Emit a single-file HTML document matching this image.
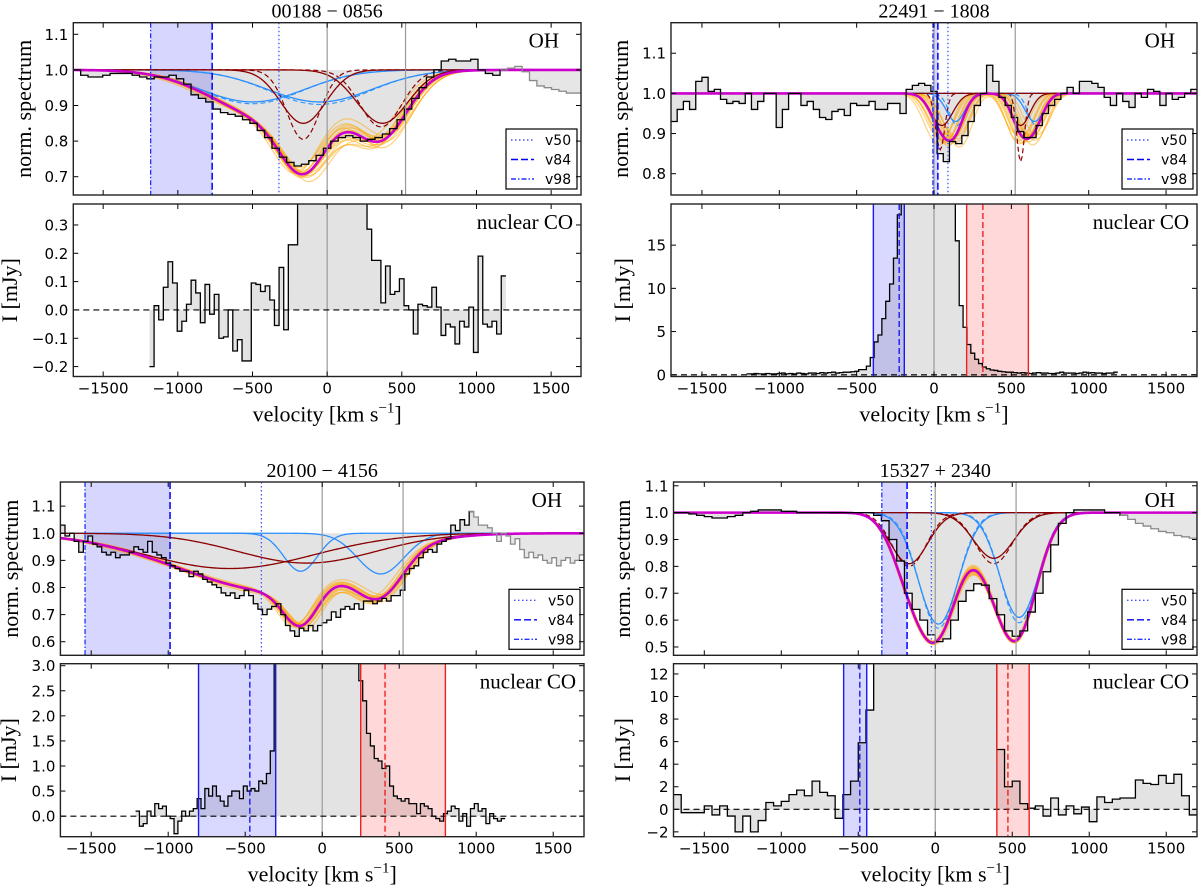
<!DOCTYPE html>
<html><head><meta charset="utf-8"><title>OH and nuclear CO spectra</title>
<style>
html,body{margin:0;padding:0;background:#fff;}
svg{display:block;}
.tick{font-family:"DejaVu Sans","Liberation Sans",sans-serif;font-size:15px;fill:#000;}
.serif{font-family:"Liberation Serif","DejaVu Serif",serif;fill:#000;}
.leg{font-family:"DejaVu Sans","Liberation Sans",sans-serif;font-size:14px;fill:#000;}
</style></head>
<body>
<svg id="chart" xmlns="http://www.w3.org/2000/svg" width="1200" height="888" viewBox="0 0 1200 888">
<rect x="0" y="0" width="1200" height="888" fill="#fff"/>
<defs id="defs"></defs>
</svg>
<script>
// ---------- DATA ----------
const xTicks = [-1500,-1000,-500,0,500,1000,1500];
const legendLabels = ['v50','v84','v98'];
const sampleScale = [0.9,0.93,0.95,0.97,0.98,1.0,1.02,1.03,1.05,1.07,1.1,0.96,1.04,0.92,1.08];
const sampleShift = [-30,20,-10,40,-40,10,-20,30,0,-50,50,15,-25,35,-5];

// 00188-0856
const tlOhVals = [1.0,0.985,0.98,0.98,0.985,0.99,0.99,0.99,0.985,0.98,0.975,0.98,0.98,0.985,0.975,0.96,0.93,0.92,0.91,0.89,0.88,0.875,0.87,0.86,0.85,0.83,0.81,0.78,0.755,0.74,0.73,0.735,0.745,0.76,0.78,0.8,0.81,0.815,0.81,0.8,0.805,0.81,0.82,0.835,0.86,0.89,0.92,0.95,0.98,1.0,1.025,1.03,1.025,1.025,1.03,1.0,0.99,0.985,1.0,1.005,1.01,0.995,0.97,0.955,0.95,0.945,0.94,0.935,0.935];
const tlCoVals = [-0.2,0.015,-0.035,0.08,0.17,0.095,-0.075,-0.04,0.02,0.105,0.06,-0.045,0.09,-0.015,0.055,-0.1,-0.095,0.0,-0.145,-0.105,-0.18,-0.18,0.095,0.09,0.065,0.085,0.035,-0.055,0.15,-0.07,0.23,0.23,0.6,1.0,1.4,1.8,2.0,2.1,2.0,1.8,1.5,1.2,0.9,0.7,0.55,0.45,0.4,0.285,0.175,0.175,0.025,0.155,0.055,0.065,0.11,0.015,0.0,-0.085,0.02,0.015,0.01,0.08,0.01,-0.09,-0.05,-0.06,-0.12,-0.04,-0.06,0.01,-0.15,0.19,-0.05,-0.06,-0.04,-0.085,0.12];
const tlBrown = [{c:-160,d:0.15,s:150},{c:370,d:0.15,s:170}];
const tlBrownDash = [{c:-160,d:0.195,s:110},{c:360,d:0.16,s:140}];
const tlBlue = [{c:-500,d:0.09,s:350},{c:-50,d:0.09,s:350}];
const tlBlueDash = [{c:-500,d:0.095,s:340},{c:-50,d:0.097,s:340}];
const tlVel = {v98:-1182,v84:-770,v50:-323};

// 22491-1808
const trOhVals = [0.93,0.96,0.98,0.96,1.03,1.04,1.005,1.01,0.985,0.975,0.98,0.975,1.0,0.96,0.98,1.0,1.0,0.915,0.96,1.0,1.0,0.97,0.98,0.96,0.94,0.935,0.955,0.96,0.945,0.975,0.97,0.97,0.98,0.96,0.96,0.975,0.975,0.95,1.01,1.02,1.025,1.02,1.005,0.85,0.83,0.88,0.875,0.895,0.93,0.97,1.0,1.07,1.03,0.99,0.97,0.94,0.905,0.89,0.89,0.92,0.95,0.97,0.985,1.0,1.015,1.0,1.03,1.03,1.025,1.015,0.99,0.97,1.0,0.98,0.965,1.0,0.99,1.01,1.005,0.97,1.0,0.985,0.99,1.0,1.01];
const trCoVals = [0.1,0.1,0.15,0.1,0.1,0.15,0.1,0.1,0.15,0.2,0.1,0.15,0.1,0.2,0.15,0.1,0.2,0.2,0.15,0.25,0.2,0.25,0.3,0.2,0.25,0.3,0.3,0.35,0.4,0.6,0.6,1.0,2.0,3.8,4.6,6.5,8.5,10.5,13.5,18.5,25,30,40,50,60,65,70,68,65,60,55,45,35,25,15.5,8.0,5.5,3.5,2.5,1.8,1.3,0.9,0.7,0.55,0.5,0.4,0.35,0.3,0.3,0.25,0.2,0.25,0.2,0.15,0.2,0.25,0.2,0.2,0.15,0.15,0.2,0.3,0.2,0.2,0.2,0.15,0.2,0.3,0.2,0.25,0.2,0.2,0.15,0.2,0.2,0.3];
const trBrown = [{c:50,d:0.08,s:70},{c:560,d:0.08,s:60}];
const trBrownDash = [{c:40,d:0.14,s:30},{c:560,d:0.17,s:25}];
const trBlue = [{c:140,d:0.07,s:60},{c:650,d:0.07,s:60}];
const trBlueDash = [{c:150,d:0.08,s:50},{c:660,d:0.08,s:50}];
const trVel = {v98:-7,v84:25,v50:90};
const trCoBlue = [-392,-192,-225];
const trCoRed = [211,610,316];

// 20100-4156
const blOhVals = [1.03,0.99,1.0,0.97,0.93,0.97,0.99,0.96,0.95,0.93,0.92,0.93,0.91,0.92,0.92,0.93,0.95,0.94,0.93,0.97,0.93,0.92,0.91,0.89,0.88,0.87,0.86,0.86,0.84,0.86,0.85,0.83,0.82,0.81,0.8,0.78,0.77,0.78,0.76,0.77,0.79,0.77,0.74,0.72,0.7,0.72,0.73,0.74,0.7,0.66,0.64,0.62,0.65,0.64,0.66,0.64,0.66,0.67,0.68,0.71,0.69,0.72,0.73,0.72,0.74,0.72,0.75,0.75,0.74,0.75,0.76,0.75,0.77,0.77,0.79,0.85,0.87,0.88,0.91,0.93,0.94,0.93,0.96,0.97,0.98,1.03,1.01,1.05,1.03,1.08,1.06,1.03,1.03,1.02,1.0,0.97,1.0,0.99,0.96,0.98,0.94,0.91,0.93,0.91,0.92,0.9,0.89,0.91,0.88,0.9,0.91,0.89,0.9,0.92];
const blCoVals = [0.1,-0.2,-0.15,0.1,0.0,0.25,0.15,0.2,0.0,-0.05,-0.35,-0.1,0.1,0.0,0.1,0.15,0.35,0.15,0.55,0.4,0.6,0.4,0.3,0.2,0.4,0.5,0.5,0.35,0.6,0.5,0.55,0.5,0.7,0.65,0.85,1.3,3.5,5,7,9,11,12,13,14,14,13,12,11,10,9,8,7,6,5,4.5,4,3.5,3.2,2.7,2.3,1.65,1.4,1.15,1.1,0.95,1.0,0.6,0.4,0.35,0.3,0.35,0.25,0.25,0.05,0.25,0.2,0.15,0.0,-0.05,-0.1,0.05,0.1,0.2,0.15,-0.1,0.05,-0.2,0.15,0.25,0.1,0.15,-0.15,0.05,-0.05,-0.1,-0.05];
const blBrown = [{c:-600,d:0.13,s:550},{c:-100,d:0.11,s:450}];
const blBlue = [{c:-140,d:0.14,s:110},{c:380,d:0.15,s:150}];
const blVel = {v98:-1540,v84:-988,v50:-395};
const blCoBlue = [-803,-302,-470];
const blCoRed = [250,800,408];

// 15327+2340
const brOhVals = [1.0,1.0,0.995,0.99,0.985,0.98,0.98,0.985,0.99,1.0,1.005,1.01,1.01,1.01,1.005,1.005,1.0,1.0,1.0,1.0,1.0,1.0,1.0,1.0,1.0,1.0,0.99,0.97,0.9,0.82,0.7,0.64,0.6,0.545,0.52,0.53,0.6,0.67,0.71,0.735,0.73,0.68,0.62,0.56,0.54,0.56,0.63,0.7,0.78,0.88,0.96,1.0,1.01,1.01,1.01,1.01,1.0,1.0,0.99,0.975,0.96,0.95,0.94,0.93,0.925,0.915,0.91,0.905];
const brCoVals = [1.3,-0.3,-0.3,-0.3,0.3,-0.5,0.3,-0.6,-2.0,-0.6,-2.0,-1.0,0.6,0.3,0.7,1.3,1.7,1.2,2.5,1.5,1.2,-0.8,1.3,2.5,5.9,8.8,15,15,15,15,15,15,15,15,15,15,15,15,15,15,15,15,5.3,2.0,2.5,0.5,0.1,0.3,-0.6,1.0,-0.5,0.3,-0.4,0.2,-1.1,1.1,0.6,0.9,1.0,1.0,2.6,2.3,2.2,3.0,2.3,3.1,1.2,-0.5];
const brBrown = [{c:-170,d:0.19,s:120},{c:380,d:0.17,s:130}];
const brBrownDash = [{c:-170,d:0.2,s:110},{c:380,d:0.19,s:120}];
const brBlue = [{c:20,d:0.415,s:130},{c:545,d:0.39,s:125}];
const brBlueDash = [{c:20,d:0.43,s:125},{c:545,d:0.41,s:120}];
const brVel = {v98:-347,v84:-183,v50:-25};
const brCoBlue = [-595,-445,-490];
const brCoRed = [400,610,472];

// ---------- DRAWING ----------
const NS = 'http://www.w3.org/2000/svg';
const svg = document.getElementById('chart');
const defs = document.getElementById('defs');
function el(tag, attrs, name, parent){
  const e = document.createElementNS(NS, tag);
  for (const k in attrs) e.setAttribute(k, attrs[k]);
  
  
  (parent || svg).appendChild(e);
  return e;
}
function gauss(v, comp){ return comp.d*Math.exp(-0.5*Math.pow((v-comp.c)/comp.s,2)); }
function fmt(v, dec){ const s = v.toFixed(dec); return v < 0 ? '\u2212' + s.slice(1) : s; }

function stepPath(vals, start, step, i0, i1, xs, ys){
  let d = '';
  for (let i=i0;i<i1;i++){
    const l = xs(start+i*step), r = xs(start+(i+1)*step), y = ys(vals[i]);
    d += (i===i0 ? 'M' : 'L') + l.toFixed(2) + ',' + y.toFixed(2) + ' L' + r.toFixed(2) + ',' + y.toFixed(2) + ' ';
  }
  return d;
}
function fillPath(vals, start, step, i0, i1, xs, ys, base){
  const d = stepPath(vals, start, step, i0, i1, xs, ys);
  return 'M' + xs(start+i0*step).toFixed(2) + ',' + ys(base).toFixed(2) + ' L' + d.slice(1) + 'L' + xs(start+i1*step).toFixed(2) + ',' + ys(base).toFixed(2) + ' Z';
}
function curvePath(fn, xs, ys){
  let d = '';
  for (let v=-1700; v<=1700; v+=10){ d += (v===-1700?'M':'L') + xs(v).toFixed(2) + ',' + ys(fn(v)).toFixed(2) + ' '; }
  return d;
}

function drawAxesFrame(g, P, ax, ys, ticks, dec, showXLabels, prefix){
  const x0=P.x0, x1=P.x1;
  for (const t of xTicks){
    const x = P.xs(t);
    el('line',{x1:x,y1:ax.b,x2:x,y2:ax.b-5,stroke:'#000','stroke-width':1},prefix+'-x-tick',g);
    el('line',{x1:x,y1:ax.t,x2:x,y2:ax.t+5,stroke:'#000','stroke-width':1},prefix+'-x-tick-top',g);
    if (showXLabels){
      const tx = el('text',{x:x,y:ax.b+17,'text-anchor':'middle',class:'tick'},prefix+'-x-tick-label',g);
      tx.textContent = fmt(t,0);
    }
  }
  for (const t of ticks){
    const y = ys(t);
    el('line',{x1:x0,y1:y,x2:x0+5,y2:y,stroke:'#000','stroke-width':1},prefix+'-y-tick',g);
    el('line',{x1:x1,y1:y,x2:x1-5,y2:y,stroke:'#000','stroke-width':1},prefix+'-y-tick-right',g);
    const tx = el('text',{x:x0-5,y:y+5.5,'text-anchor':'end',class:'tick'},prefix+'-y-tick-label',g);
    tx.textContent = fmt(t,dec);
  }
  el('rect',{x:x0,y:ax.t,width:x1-x0,height:ax.b-ax.t,fill:'none',stroke:'#222','stroke-width':1.4},prefix+'-frame',g);
}

function drawPanel(P){
  P.xs = v => P.x0 + (v+1700)/3400*(P.x1-P.x0);
  const xs = P.xs, oh = P.oh, co = P.co;
  const yo = v => oh.t + (oh.max-v)/(oh.max-oh.min)*(oh.b-oh.t);
  const yc = v => co.t + (co.max-v)/(co.max-co.min)*(co.b-co.t);
  const g = el('g',{},P.id+'-panel');

  const cpO = el('clipPath',{id:P.id+'-clip-oh'},P.id+'-clip-oh',defs);
  el('rect',{x:P.x0,y:oh.t,width:P.x1-P.x0,height:oh.b-oh.t},'clip-rect',cpO);
  const cpC = el('clipPath',{id:P.id+'-clip-co'},P.id+'-clip-co',defs);
  el('rect',{x:P.x0,y:co.t,width:P.x1-P.x0,height:co.b-co.t},'clip-rect',cpC);

  // ---- OH axes ----
  const go = el('g',{'clip-path':'url(#'+P.id+'-clip-oh)'},P.id+'-oh-plot',g);
  const ohStart = -1700, ohStep = 3400/P.ohVals.length;
  let grayIdx = P.ohVals.length;
  for (let i=0;i<P.ohVals.length;i++){ if (ohStart+i*ohStep >= P.grayFrom){ grayIdx = i; break; } }
  el('path',{d:fillPath(P.ohVals,ohStart,ohStep,0,grayIdx,xs,yo,1.0),fill:'#e3e3e3',stroke:'none'},P.id+'-oh-data-fill',go);
  if (grayIdx < P.ohVals.length)
    el('path',{d:fillPath(P.ohVals,ohStart,ohStep,grayIdx,P.ohVals.length,xs,yo,1.0),fill:'#e6e6e6',stroke:'none'},P.id+'-oh-data-fill-unused',go);
  el('rect',{x:xs(P.vel.v98),y:oh.t,width:xs(P.vel.v84)-xs(P.vel.v98),height:oh.b-oh.t,fill:'#0000ff','fill-opacity':0.16},P.id+'-outflow-span',go);
  const comps = P.brown.concat(P.blue);
  for (let k=0;k<sampleScale.length;k++){
    const sc = 1 + (sampleScale[k]-1)*P.spread, sh = sampleShift[k]*P.spread;
    const f = v => 1 - comps.reduce((a,c,j)=>a+gauss(v,{c:c.c+sh*(j%2?-1:1),d:c.d*(j%2?2-sc:sc),s:c.s}),0);
    el('path',{d:curvePath(f,xs,yo),fill:'none',stroke:'#ffa500','stroke-opacity':0.5,'stroke-width':1.2},P.id+'-mcmc-sample',go);
  }
  for (const c of P.blueDash) el('path',{d:curvePath(v=>1-gauss(v,c),xs,yo),fill:'none',stroke:'#3399ff','stroke-width':1.2,'stroke-dasharray':'5,3'},P.id+'-blue-component-alt',go);
  for (const c of P.brownDash) el('path',{d:curvePath(v=>1-gauss(v,c),xs,yo),fill:'none',stroke:'#8b0000','stroke-width':1.2,'stroke-dasharray':'5,3'},P.id+'-brown-component-alt',go);
  for (const c of P.blue) el('path',{d:curvePath(v=>1-gauss(v,c),xs,yo),fill:'none',stroke:'#2b8fff','stroke-width':1.3},P.id+'-blue-component',go);
  for (const c of P.brown) el('path',{d:curvePath(v=>1-gauss(v,c),xs,yo),fill:'none',stroke:'#8b0000','stroke-width':1.3},P.id+'-brown-component',go);
  el('path',{d:curvePath(v=>1-comps.reduce((a,c)=>a+gauss(v,c),0),xs,yo),fill:'none',stroke:'#cc00cc','stroke-width':2.6},P.id+'-total-fit',go);
  el('path',{d:stepPath(P.ohVals,ohStart,ohStep,0,grayIdx,xs,yo),fill:'none',stroke:'#000','stroke-width':1.3},P.id+'-oh-data',go);
  if (grayIdx < P.ohVals.length)
    el('path',{d:stepPath(P.ohVals,ohStart,ohStep,grayIdx-1,P.ohVals.length,xs,yo),fill:'none',stroke:'#8a8a8a','stroke-width':1.3},P.id+'-oh-data-unused',go);
  for (const v of [0,525]) el('line',{x1:xs(v),y1:oh.t,x2:xs(v),y2:oh.b,stroke:'#999','stroke-width':1.2},P.id+'-oh-ref-line',go);
  el('line',{x1:xs(P.vel.v50),y1:oh.t,x2:xs(P.vel.v50),y2:oh.b,stroke:'#4455ff','stroke-width':1.3,'stroke-dasharray':'1.5,2.5'},P.id+'-v50-line',go);
  el('line',{x1:xs(P.vel.v84),y1:oh.t,x2:xs(P.vel.v84),y2:oh.b,stroke:'#0000ff','stroke-width':1.5,'stroke-dasharray':'7,3'},P.id+'-v84-line',go);
  el('line',{x1:xs(P.vel.v98),y1:oh.t,x2:xs(P.vel.v98),y2:oh.b,stroke:'#2233ff','stroke-width':1.3,'stroke-dasharray':'5,2,1.5,2'},P.id+'-v98-line',go);

  // legend
  const lg = el('g',{},P.id+'-legend',g);
  el('rect',{x:P.x1-75,y:oh.b-66,width:71,height:60,fill:'#fff',stroke:'#000','stroke-width':1.2},P.id+'-legend-box',lg);
  const dashes = ['1.5,2.5','7,3','5,2,1.5,2'];
  const lcols = ['#4455ff','#0000ff','#2233ff'];
  for (let i=0;i<3;i++){
    const y = oh.b-55+i*19.5;
    el('line',{x1:P.x1-70,y1:y,x2:P.x1-47,y2:y,stroke:lcols[i],'stroke-width':1.4,'stroke-dasharray':dashes[i]},P.id+'-legend-swatch',lg);
    const t = el('text',{x:P.x1-36,y:y+5,class:'leg'},P.id+'-legend-label',lg);
    t.textContent = legendLabels[i];
  }
  const ohl = el('text',{x:P.x1-22,y:oh.t+25,'text-anchor':'end',class:'serif','font-size':21},P.id+'-oh-label',g);
  ohl.textContent = 'OH';
  drawAxesFrame(g,P,oh,yo,P.oh.ticks,P.oh.dec,false,P.id+'-oh');

  // ---- CO axes ----
  const gc = el('g',{'clip-path':'url(#'+P.id+'-clip-co)'},P.id+'-co-plot',g);
  const coStep = (P.coEnd-P.coStart)/P.coVals.length;
  el('path',{d:fillPath(P.coVals,P.coStart,coStep,0,P.coVals.length,xs,yc,0),fill:'#e3e3e3',stroke:'none'},P.id+'-co-data-fill',gc);
  if (P.coBlue){
    el('rect',{x:xs(P.coBlue[0]),y:co.t,width:xs(P.coBlue[1])-xs(P.coBlue[0]),height:co.b-co.t,fill:'#0000ff','fill-opacity':0.15},P.id+'-co-blue-wing',gc);
    el('rect',{x:xs(P.coRed[0]),y:co.t,width:xs(P.coRed[1])-xs(P.coRed[0]),height:co.b-co.t,fill:'#ff0000','fill-opacity':0.15},P.id+'-co-red-wing',gc);
  }
  el('line',{x1:xs(0),y1:co.t,x2:xs(0),y2:co.b,stroke:'#999','stroke-width':1.2},P.id+'-co-ref-line',gc);
  el('path',{d:stepPath(P.coVals,P.coStart,coStep,0,P.coVals.length,xs,yc),fill:'none',stroke:'#000','stroke-width':1.3},P.id+'-co-data',gc);
  el('line',{x1:P.x0,y1:yc(0),x2:P.x1,y2:yc(0),stroke:'#000','stroke-width':1.1,'stroke-dasharray':'6,4'},P.id+'-co-zero-line',gc);
  if (P.coBlue){
    for (const v of [P.coBlue[0],P.coBlue[1]]) el('line',{x1:xs(v),y1:co.t,x2:xs(v),y2:co.b,stroke:'#1a1aee','stroke-width':1.4},P.id+'-co-blue-edge',gc);
    el('line',{x1:xs(P.coBlue[2]),y1:co.t,x2:xs(P.coBlue[2]),y2:co.b,stroke:'#1a1aee','stroke-width':1.4,'stroke-dasharray':'6,3'},P.id+'-co-blue-mid',gc);
    for (const v of [P.coRed[0],P.coRed[1]]) el('line',{x1:xs(v),y1:co.t,x2:xs(v),y2:co.b,stroke:'#ee2222','stroke-width':1.4},P.id+'-co-red-edge',gc);
    el('line',{x1:xs(P.coRed[2]),y1:co.t,x2:xs(P.coRed[2]),y2:co.b,stroke:'#ee2222','stroke-width':1.4,'stroke-dasharray':'6,3'},P.id+'-co-red-mid',gc);
  }
  const col = el('text',{x:P.x1-8,y:co.t+25,'text-anchor':'end',class:'serif','font-size':21},P.id+'-co-label',g);
  col.textContent = 'nuclear CO';
  drawAxesFrame(g,P,co,yc,P.co.ticks,P.co.dec,true,P.id+'-co');

  const tt = el('text',{x:(P.x0+P.x1)/2,y:oh.t-5,'text-anchor':'middle',class:'serif','font-size':20},P.id+'-title',g);
  tt.textContent = P.title;
  const yl1 = el('text',{x:P.ylabX1,y:(oh.t+oh.b)/2,'text-anchor':'middle',class:'serif','font-size':22,transform:'rotate(-90 '+P.ylabX1+' '+((oh.t+oh.b)/2)+')'},P.id+'-oh-y-axis-title',g);
  yl1.textContent = 'norm. spectrum';
  const yl2 = el('text',{x:P.ylabX2,y:(co.t+co.b)/2,'text-anchor':'middle',class:'serif','font-size':22,transform:'rotate(-90 '+P.ylabX2+' '+((co.t+co.b)/2)+')'},P.id+'-co-y-axis-title',g);
  yl2.textContent = 'I [mJy]';
  const xl = el('text',{x:(P.x0+P.x1)/2,y:co.b+45,'text-anchor':'middle',class:'serif','font-size':22},P.id+'-x-axis-title',g);
  xl.textContent = 'velocity [km s';
  const sup = el('tspan',{dy:-9,'font-size':15},P.id+'-x-axis-title-exp',xl);
  sup.textContent = '\u22121';
  const cl = el('tspan',{dy:9},P.id+'-x-axis-title-close',xl);
  cl.textContent = ']';
}

drawPanel({id:'p00188',title:'00188 \u2212 0856',x0:73.3,x1:581,spread:1,
  oh:{t:22.7,b:195,min:0.6486,max:1.1326,ticks:[0.7,0.8,0.9,1.0,1.1],dec:1},
  co:{t:204,b:376.5,min:-0.235,max:0.374,ticks:[-0.2,-0.1,0.0,0.1,0.2,0.3],dec:1},
  ohVals:tlOhVals,grayFrom:1200,brown:tlBrown,brownDash:tlBrownDash,blue:tlBlue,blueDash:tlBlueDash,vel:tlVel,
  coVals:tlCoVals,coStart:-1190,coEnd:1197,coBlue:null,coRed:null,ylabX1:31,ylabX2:17});
drawPanel({id:'p22491',title:'22491 \u2212 1808',x0:671,x1:1197,spread:1.3,
  oh:{t:22.7,b:195,min:0.747,max:1.176,ticks:[0.8,0.9,1.0,1.1],dec:1},
  co:{t:204,b:376.5,min:-0.2,max:19.76,ticks:[0,5,10,15],dec:0},
  ohVals:trOhVals,grayFrom:99999,brown:trBrown,brownDash:trBrownDash,blue:trBlue,blueDash:trBlueDash,vel:trVel,
  coVals:trCoVals,coStart:-1212,coEnd:1188,coBlue:trCoBlue,coRed:trCoRed,ylabX1:628,ylabX2:630});
drawPanel({id:'p20100',title:'20100 \u2212 4156',x0:60.4,x1:584,spread:0.8,
  oh:{t:482,b:655.3,min:0.55,max:1.189,ticks:[0.6,0.7,0.8,0.9,1.0,1.1],dec:1},
  co:{t:663.7,b:836.7,min:-0.41,max:3.04,ticks:[0,0.5,1.0,1.5,2.0,2.5,3.0],dec:1},
  ohVals:blOhVals,grayFrom:960,brown:blBrown,brownDash:[],blue:blBlue,blueDash:[],vel:blVel,
  coVals:blCoVals,coStart:-1212,coEnd:1188,coBlue:blCoBlue,coRed:blCoRed,ylabX1:18,ylabX2:16});
drawPanel({id:'p15327',title:'15327 + 2340',x0:673.5,x1:1197,spread:0.15,
  oh:{t:482,b:655.3,min:0.469,max:1.114,ticks:[0.5,0.6,0.7,0.8,0.9,1.0,1.1],dec:1},
  co:{t:663.7,b:836.7,min:-2.43,max:12.91,ticks:[-2,0,2,4,6,8,10,12],dec:0},
  ohVals:brOhVals,grayFrom:1250,brown:brBrown,brownDash:brBrownDash,blue:brBlue,blueDash:brBlueDash,vel:brVel,
  coVals:brCoVals,coStart:-1700,coEnd:1700,coBlue:brCoBlue,coRed:brCoRed,ylabX1:630,ylabX2:630});
</script>
</body></html>
